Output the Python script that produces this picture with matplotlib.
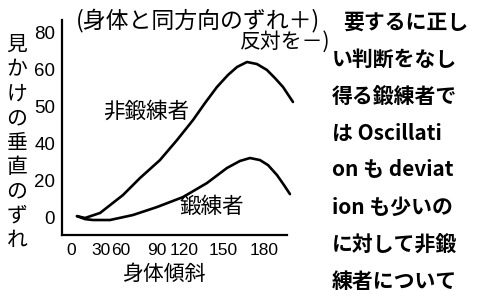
import matplotlib.pyplot as plt

plt.rcParams['font.family'] = ['Noto Sans CJK JP', 'DejaVu Sans']

# body tilt (deg) vs apparent vertical deviation
untrained_x = [5.6, 13.1, 27.1, 48.5, 64.4, 83.0, 98.9, 113.8, 125.0, 136.2,
               146.5, 154.9, 164.2, 173.5, 182.8, 190.3, 197.8, 207.1]
untrained_y = [0.5, -0.5, 2.2, 11.9, 21.1, 30.8, 41.6, 52.4, 61.6, 70.3,
               76.8, 81.1, 83.8, 82.7, 79.5, 75.1, 70.3, 62.2]
trained_x = [5.6, 13.1, 20.5, 36.4, 57.8, 80.2, 104.5, 126.9, 145.5, 157.6,
             167.0, 176.3, 183.8, 192.2, 198.7, 204.3]
trained_y = [0.5, -1.1, -1.6, -1.6, 1.1, 5.4, 10.8, 18.4, 26.5, 30.3,
             31.9, 30.8, 28.1, 22.7, 17.3, 12.4]

# the printed scales are uneven, so ticks sit where the labels were printed
xtick_pos = [0, 28, 46, 80, 106, 142, 180]
xtick_labels = ['0', '30', '60', '90', '120', '150', '180']
ytick_pos = [0, 20, 40, 60, 80, 100]
ytick_labels = ['0', '20', '40', '50', '60', '80']

ylabel_text = '見かけの垂直のずれ'
side_lines = ['要するに正し', 'い判断をなし', '得る鍛練者で', 'は Oscillati',
              'on も deviat', 'ion も少いの', 'に対して非鍛', '練者について']

W, H = 483, 291
fig = plt.figure(figsize=(W / 100, H / 100), dpi=100)
ax = fig.add_axes([62 / W, 1 - 235 / H, (295 - 62) / W, (235 - 20) / H])

ax.plot(untrained_x, untrained_y, color='black', lw=1.9, solid_joinstyle='round', solid_capstyle='round')
ax.plot(trained_x, trained_y, color='black', lw=1.9, solid_joinstyle='round', solid_capstyle='round')

ax.set_xlim(-8.4, 209)
ax.set_ylim(-9.7, 106.5)
ax.spines['top'].set_visible(False)
ax.spines['right'].set_visible(False)
ax.spines['left'].set_linewidth(1.6)
ax.spines['bottom'].set_linewidth(1.6)
ax.spines['bottom'].set_bounds(-8.4, 201.5)

num_font = ['Liberation Sans', 'DejaVu Sans']
ax.set_xticks(xtick_pos)
ax.set_xticklabels(xtick_labels, family=num_font, fontsize=12.5)
ax.set_yticks(ytick_pos)
ax.set_yticklabels(ytick_labels, family=num_font, fontsize=13.5)
ax.tick_params(length=0)
ax.tick_params(axis='x', pad=6)
ax.tick_params(axis='y', pad=5)

# curve labels
ax.text(70, 57, '非鍛練者', fontsize=15.5, ha='center', va='center')
ax.text(131, 5.5, '鍛練者', fontsize=15.5, ha='center', va='center')

# texts outside the plot, placed in pixel terms
def px(x, y):
    return x / W, 1 - y / H

fig.text(*px(164, 274), '身体傾斜', fontsize=15, ha='center', va='center')
for i, ch in enumerate(ylabel_text):
    fig.text(*px(17, 45 + i * 24.4), ch, fontsize=15, ha='center', va='center')

fig.text(*px(76, 20), '(身体と同方向のずれ＋)', fontsize=16.5, ha='left', va='center')
fig.text(*px(330, 42), '反対を－)', fontsize=15, ha='right', va='center')

for i, line in enumerate(side_lines):
    x0 = 343 if i == 0 else 332
    fig.text(*px(x0, 22 + i * 37), line, fontsize=15, ha='left', va='center', weight='bold')

fig.savefig('out.png', dpi=100)
